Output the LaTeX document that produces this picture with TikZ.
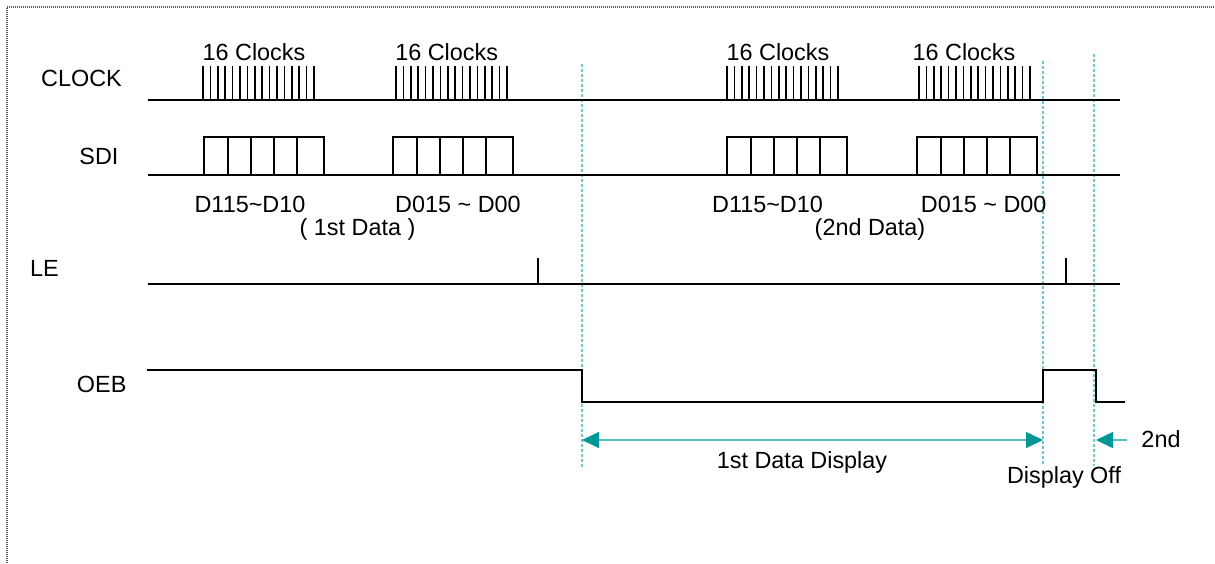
\documentclass[tikz,border=0pt]{standalone}
\usepackage{fontspec}
\setmainfont{Liberation Sans}
\usetikzlibrary{arrows.meta}

\begin{document}
\begin{tikzpicture}[x=0.5pt,y=-0.5pt, line width=1pt,
        lbl/.style={anchor=base, inner sep=0pt, font=\fontsize{11.7}{14}\selectfont},
        guide/.style={guidecolor, line width=0.6pt, dash pattern=on 1.5pt off 1pt},
        span/.style={spancolor, line width=0.8pt},
        tip/.style={-{Triangle[length=8.5pt,width=8pt,color=headcolor]}},
        bothtips/.style={{Triangle[length=8.5pt,width=8pt,color=headcolor]}-{Triangle[length=8.5pt,width=8pt,color=headcolor]}}]
        \definecolor{framecolor}{RGB}{90,90,90}
        \definecolor{guidecolor}{RGB}{110,200,200}
        \definecolor{spancolor}{RGB}{80,195,195}
        \definecolor{headcolor}{RGB}{0,150,150}

        \useasboundingbox (0,0) rectangle (1215,563);

        % Draw frame
        \draw[framecolor, line width=0.6pt, dash pattern=on 0.5pt off 0.5pt] (7,563) -- (7,7) -- (1215,7);

        % Signal names
        \node[lbl] (clocklbl) at (81.5,86) {CLOCK};
        \node[lbl] (sdilbl) at (99,164.5) {SDI};
        \node[lbl] (lelbl) at (44.5,276.5) {LE};
        \node[lbl] (oeblbl) at (101.7,392.5) {OEB};

        % Draw guide lines
        \draw[guide] (582,64) -- (582,467);
        \draw[guide] (1043,61) -- (1043,466);
        \draw[guide] (1094,54) -- (1094,466);

        % CLOCK
        \draw (148,100) -- (1120,100);
        \foreach \s in {203,396,727,919}
            \foreach \k in {0,...,15}
                \draw[line width=0.8pt] ({\s+7.4*\k},66) -- ({\s+7.4*\k},100);
        \node[lbl] (clk1) at (254,60) {16 Clocks};
        \node[lbl] (clk2) at (446.7,60) {16 Clocks};
        \node[lbl] (clk3) at (778,60) {16 Clocks};
        \node[lbl] (clk4) at (964,60) {16 Clocks};

        % SDI
        \draw (148,175) -- (1120,175);
        \foreach \s in {204,393,727,917} {
            \draw (\s,175) rectangle ++(120,-38);
            \foreach \d in {24,47,70,93}
                \draw (\s+\d,137) -- (\s+\d,175);
        }
        \node[lbl] (dat1) at (250,212) {D115\textasciitilde D10};
        \node[lbl] (dat2) at (458,212) {D015 \textasciitilde{} D00};
        \node[lbl] (dat3) at (767.5,212) {D115\textasciitilde D10};
        \node[lbl] (dat4) at (983.7,212) {D015 \textasciitilde{} D00};
        \node[lbl] (first) at (357.5,235) {( 1st Data )};
        \node[lbl] (second) at (870,235) {(2nd Data)};

        % LE
        \draw (148,284) -- (1120,284);
        \draw (538,284) -- (538,258);
        \draw (1066,284) -- (1066,258);

        % OEB
        \draw (147,370) -- (582,370) -- (582,402) -- (1043,402) -- (1043,370)
            -- (1096,370) -- (1096,402) -- (1125,402);

        % Display periods
        \coordinate (dispL) at (582,440);
        \coordinate (dispR) at (1043,440);
        \coordinate (offR) at (1127,440);
        \coordinate (offL) at (1096,440);
        \draw[span, bothtips] (dispL) -- (dispR);
        \draw[span, tip] (offR) -- (offL);
        \node[lbl] (displbl) at (802,468) {1st Data Display};
        \node[lbl] (offlbl) at (1064,483) {Display Off};
        \node[lbl] (nextlbl) at (1161,447) {2nd};
    \end{tikzpicture}
\end{document}
